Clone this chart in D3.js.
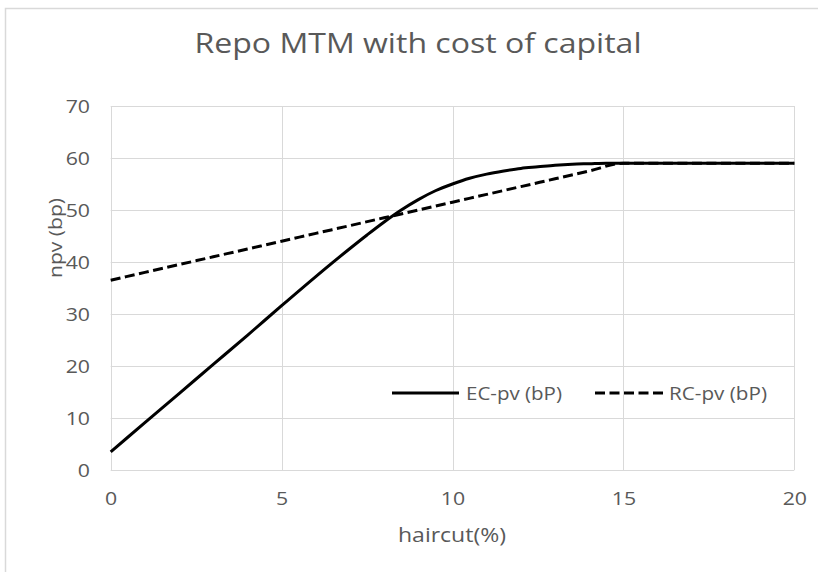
<!DOCTYPE html>
<html>
<head>
<meta charset="utf-8">
<script src="https://cdn.jsdelivr.net/npm/d3@7"></script>
<style>
  html, body { margin: 0; padding: 0; background: #fff; }
  svg { display: block; font-family: "Open Sans", "Noto Sans", sans-serif; }
</style>
</head>
<body>
<svg id="chart" width="818" height="572"></svg>
<script>
// ---- data ----
const haircut = [0, 1, 2, 3, 4, 5, 6, 7, 7.5, 8, 8.5, 9, 9.5, 10, 10.5, 11, 11.5, 12, 12.5, 13, 13.5, 14, 14.5, 15, 16, 17, 18, 19, 20];
const ecPv    = [3.5, 9.1, 14.7, 20.3, 25.9, 31.6, 37.2, 42.6, 45.2, 47.7, 50.0, 52.0, 53.7, 55.0, 56.1, 56.9, 57.5, 58.0, 58.3, 58.6, 58.8, 58.9, 59.0, 59.0, 59.0, 59.0, 59.0, 59.0, 59.0];
const rcX     = [0, 1, 2, 3, 4, 5, 6, 7, 8, 9, 10, 11, 12, 13, 14, 15, 16, 17, 18, 19, 20];
const rcPv    = [36.5, 38.0, 39.5, 41.0, 42.5, 44.0, 45.5, 47.0, 48.5, 50.0, 51.5, 53.0, 54.5, 56.0, 57.5, 59.0, 59.0, 59.0, 59.0, 59.0, 59.0];
const xTicks = [0, 5, 10, 15, 20];
const yTicks = [0, 10, 20, 30, 40, 50, 60, 70];
const seriesNames = ["EC-pv (bP)", "RC-pv (bP)"];
const titleText = "Repo MTM with cost of capital";
const xTitle = "haircut(%)";
const yTitle = "npv (bp)";

// ---- layout ----
const svg = d3.select("#chart");
const L = 110.7, R = 794.3, T = 106, B = 470;
const x = d3.scaleLinear().domain([0, 20]).range([L, R]);
const y = d3.scaleLinear().domain([0, 70]).range([B, T]);
const textColor = "#595959";
const gridColor = "#d9d9d9";
const stretch = 1.12;

function widen(sel, factor) {
  sel.each(function () {
    const w = this.getComputedTextLength();
    d3.select(this).attr("textLength", w * factor).attr("lengthAdjust", "spacingAndGlyphs");
  });
}

// chart area border (only top & left visible in crop)
svg.append("rect").attr("x", 5.5).attr("y", 8.5).attr("width", 900).attr("height", 700)
  .attr("fill", "none").attr("stroke", "#d9d9d9").attr("stroke-width", 1.5);

// gridlines
const grid = svg.append("g");
grid.selectAll("line.h").data(yTicks).join("line")
  .attr("x1", L).attr("x2", R)
  .attr("y1", d => Math.round(y(d)) + 0.5).attr("y2", d => Math.round(y(d)) + 0.5)
  .attr("stroke", gridColor).attr("stroke-width", 1);
grid.selectAll("line.v").data(xTicks).join("line")
  .attr("y1", T).attr("y2", B)
  .attr("x1", d => Math.round(x(d)) + 0.5).attr("x2", d => Math.round(x(d)) + 0.5)
  .attr("stroke", gridColor).attr("stroke-width", 1);

// axes (labels only)
const xAxis = d3.axisBottom(x).tickValues(xTicks).tickSize(0).tickPadding(0);
const gx = svg.append("g").attr("transform", `translate(0,${B})`).call(xAxis);
gx.select(".domain").remove();
gx.selectAll("text").attr("fill", textColor).attr("font-size", 19)
  .attr("font-family", '"Open Sans", sans-serif').attr("dy", 0).attr("y", 35)
  .call(widen, stretch);

const yAxis = d3.axisLeft(y).tickValues(yTicks).tickSize(0).tickPadding(0);
const gy = svg.append("g").attr("transform", `translate(90,0)`).call(yAxis);
gy.select(".domain").remove();
gy.selectAll("text").attr("fill", textColor).attr("font-size", 19)
  .attr("font-family", '"Open Sans", sans-serif').attr("dy", "0.36em").attr("x", 0)
  .call(widen, stretch);

// lines
const lineGen = d3.line().curve(d3.curveMonotoneX);
const ecPts = haircut.map((h, i) => [x(h), y(ecPv[i])]);
const rcPts = rcX.map((h, i) => [x(h), y(rcPv[i])]);

svg.append("path").attr("d", lineGen(rcPts))
  .attr("fill", "none").attr("stroke", "#000").attr("stroke-width", 3)
  .attr("stroke-dasharray", "10,4.5");
svg.append("path").attr("d", lineGen(ecPts))
  .attr("fill", "none").attr("stroke", "#000").attr("stroke-width", 3)
  .attr("stroke-linejoin", "round");

// legend
const legY = 393;
const leg = svg.append("g");
leg.append("line").attr("x1", 392).attr("x2", 459).attr("y1", legY).attr("y2", legY)
  .attr("stroke", "#000").attr("stroke-width", 3);
leg.append("text").attr("x", 466).attr("y", legY).attr("dy", "0.36em")
  .attr("fill", textColor).attr("font-size", 19)
  .attr("textLength", 96).attr("lengthAdjust", "spacingAndGlyphs").text(seriesNames[0]);
leg.append("line").attr("x1", 595).attr("x2", 663).attr("y1", legY).attr("y2", legY)
  .attr("stroke", "#000").attr("stroke-width", 3).attr("stroke-dasharray", "10,4.5");
leg.append("text").attr("x", 669).attr("y", legY).attr("dy", "0.36em")
  .attr("fill", textColor).attr("font-size", 19)
  .attr("textLength", 98).attr("lengthAdjust", "spacingAndGlyphs").text(seriesNames[1]);

// title
svg.append("text").attr("x", 418).attr("y", 53).attr("text-anchor", "middle")
  .attr("fill", textColor).attr("font-size", 27)
  .attr("textLength", 447).attr("lengthAdjust", "spacingAndGlyphs")
  .text(titleText);

// axis titles
svg.append("text").attr("x", 452).attr("y", 535).attr("dy", "0.36em").attr("text-anchor", "middle")
  .attr("fill", textColor).attr("font-size", 20)
  .attr("textLength", 108).attr("lengthAdjust", "spacingAndGlyphs").text(xTitle);
svg.append("text").attr("transform", "translate(62,238) rotate(-90)")
  .attr("text-anchor", "middle")
  .attr("fill", textColor).attr("font-size", 19)
  .attr("textLength", 80).attr("lengthAdjust", "spacingAndGlyphs").text(yTitle);
</script>
</body>
</html>
